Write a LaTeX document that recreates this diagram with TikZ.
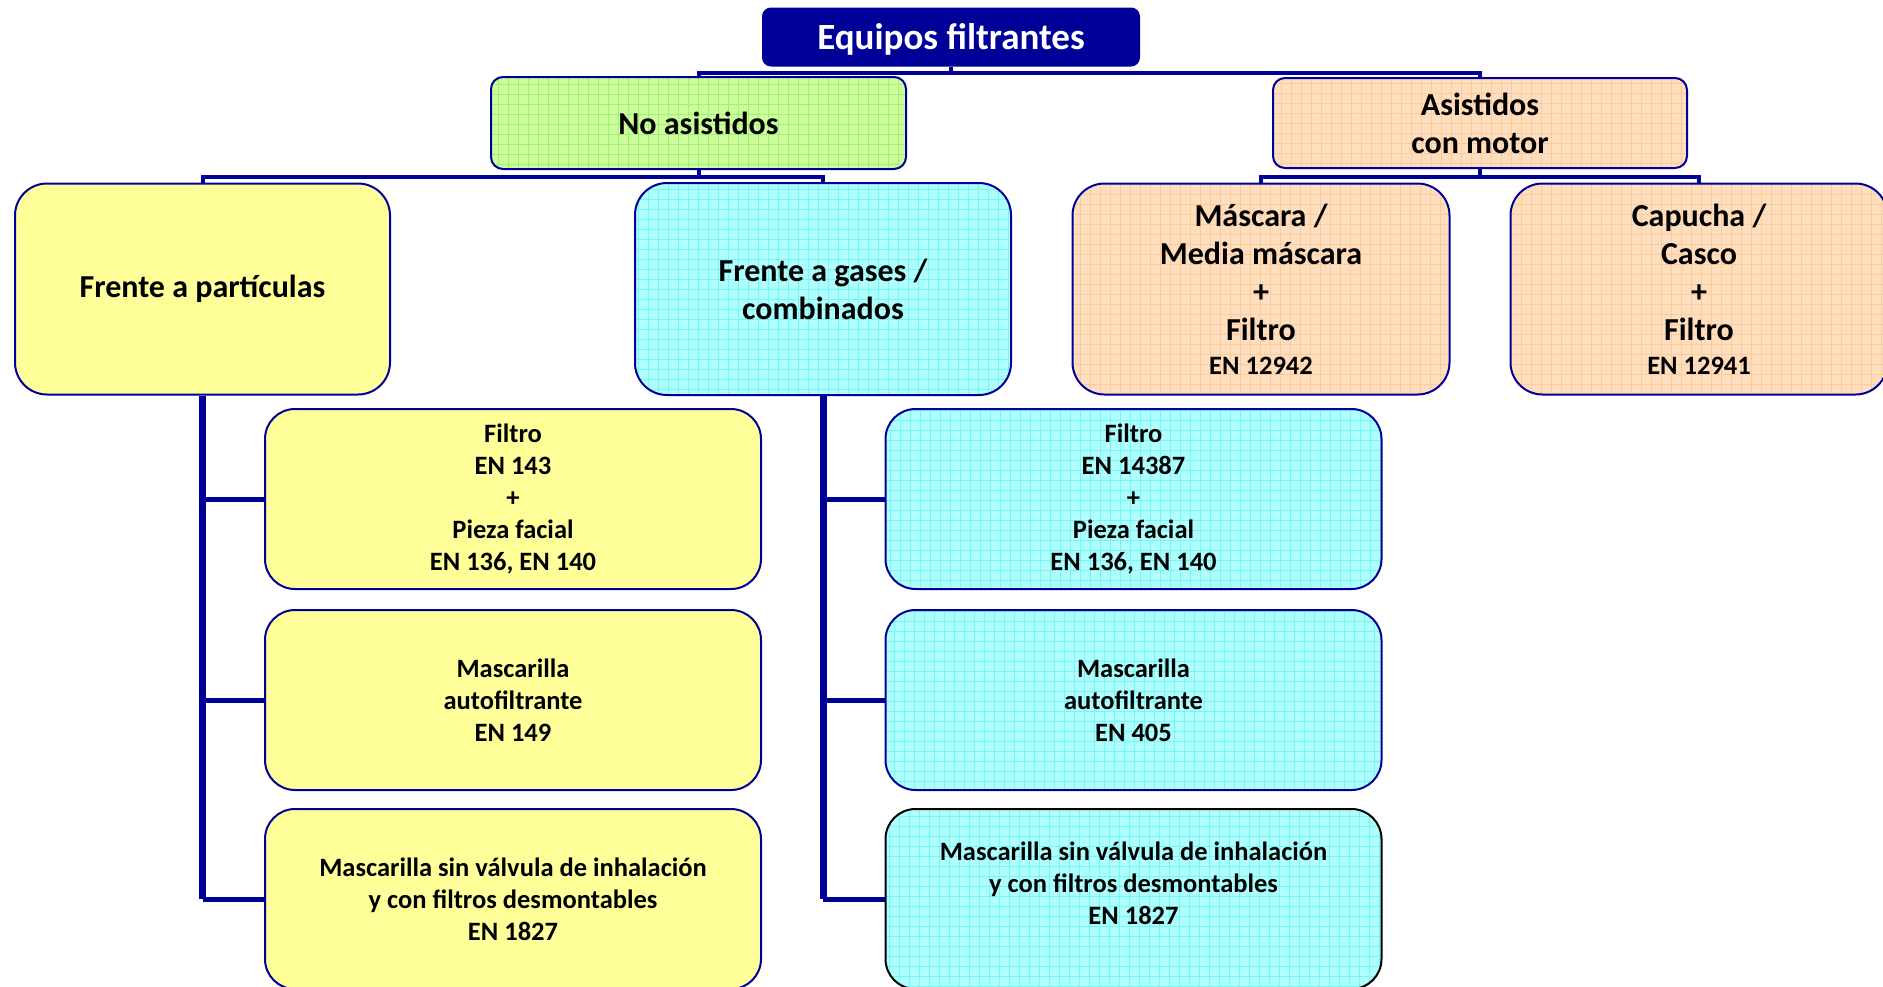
\documentclass[tikz,border=0pt]{standalone}
\usepackage{fontspec}
\setmainfont{Carlito}

\definecolor{azul}{HTML}{000099}
\definecolor{amarillo}{HTML}{FFFF99}
\definecolor{cian}{HTML}{B0FFFF}
\definecolor{cianlinea}{HTML}{78F6F6}
\definecolor{verde}{HTML}{CCFF99}
\definecolor{verdelinea}{HTML}{A2F07C}
\definecolor{naranja}{HTML}{FFDEBE}
\definecolor{naranjalinea}{HTML}{FCCA9F}

\tikzset{
  caja/.style={draw=azul, line width=2pt, rounded corners=#1, align=center,
    inner sep=0pt, font=\bfseries},
  caja/.default=30pt,
  rejilla/.style 2 args={fill=#1, path picture={
    \draw[#2, line width=0.7pt] (path picture bounding box.south west)
      grid[step=10pt] (path picture bounding box.north east);}},
  grande/.style={font=\bfseries\fontsize{32pt}{38pt}\selectfont},
  chica/.style={font=\bfseries\fontsize{26.5pt}{32pt}\selectfont},
  hoja/.style={caja, chica, minimum width=496pt, minimum height=180pt},
  conector/.style={draw=azul, line width=4pt},
  tronco/.style={draw=azul, line width=7pt},
  rama/.style={draw=azul, line width=5pt}
}

\begin{document}
\begin{tikzpicture}[x=1pt, y=-1pt]
  \useasboundingbox (0,0) rectangle (1883,986);

  \node[caja=8pt, fill=azul, text=white, font=\bfseries\fontsize{37pt}{40pt}\selectfont,
    text depth=2pt, minimum width=376pt, minimum height=57pt] (titulo) at (951,37) {Equipos filtrantes};

  \node[caja=12pt, grande, rejilla={verde}{verdelinea}, minimum width=415pt, minimum height=92pt]
    (noas) at (698.5,123) {No asistidos};
  \node[caja=12pt, grande, rejilla={naranja}{naranjalinea}, minimum width=414pt, minimum height=90pt]
    (asis) at (1480,123) {Asistidos\\con motor};

  \node[caja=32pt, grande, fill=amarillo, minimum width=375pt, minimum height=211pt]
    (part) at (202.5,289) {Frente a partículas};
  \node[caja=32pt, grande, rejilla={cian}{cianlinea}, minimum width=376pt, minimum height=212pt]
    (gases) at (823,289) {Frente a gases /\\combinados};
  \node[caja=32pt, grande, rejilla={naranja}{naranjalinea}, minimum width=377pt, minimum height=211pt]
    (masc) at (1261,289) {Máscara /\\Media máscara\\+\\Filtro\\[-4pt]{\fontsize{26.5pt}{30pt}\selectfont EN 12942}};
  \node[caja=32pt, grande, rejilla={naranja}{naranjalinea}, minimum width=377pt, minimum height=211pt]
    (capu) at (1699,289) {Capucha /\\Casco\\+\\Filtro\\[-4pt]{\fontsize{26.5pt}{30pt}\selectfont EN 12941}};

  \node[hoja, fill=amarillo] (pf1) at (513,499)
    {Filtro\\EN 143\\+\\Pieza facial\\EN 136, EN 140};
  \node[hoja, fill=amarillo] (pf2) at (513,700)
    {Mascarilla\\autofiltrante\\EN 149};
  \node[hoja, fill=amarillo] (pf3) at (513,899)
    {Mascarilla sin válvula de inhalación\\y con filtros desmontables\\EN 1827};

  \node[hoja, rejilla={cian}{cianlinea}] (gf1) at (1133.5,499)
    {Filtro\\EN 14387\\+\\Pieza facial\\EN 136, EN 140};
  \node[hoja, rejilla={cian}{cianlinea}] (gf2) at (1133.5,700)
    {Mascarilla\\autofiltrante\\EN 405};
  \node[hoja, draw=black, rejilla={cian}{cianlinea}] (gf3) at (1133.5,899)
    {Mascarilla sin válvula de inhalación\\y con filtros desmontables\\EN 1827\\ \mbox{}};

  \draw[conector] (titulo.south) -- ++(0,6) -| (noas.north);
  \draw[conector] (titulo.south) -- ++(0,6) -| (asis.north);
  \draw[conector] (noas.south) -- ++(0,7) -| (part.north);
  \draw[conector] (noas.south) -- ++(0,7) -| (gases.north);
  \draw[conector] (asis.south) -- ++(0,8) -| (masc.north);
  \draw[conector] (asis.south) -- ++(0,8) -| (capu.north);

  \draw[tronco] (part.south) -- (part.south |- pf3.west);
  \draw[rama] (part.south |- pf1.west) -- (pf1.west);
  \draw[rama] (part.south |- pf2.west) -- (pf2.west);
  \draw[rama] (part.south |- pf3.west) -- (pf3.west);
  \draw[tronco] (gases.south) -- (gases.south |- gf3.west);
  \draw[rama] (gases.south |- gf1.west) -- (gf1.west);
  \draw[rama] (gases.south |- gf2.west) -- (gf2.west);
  \draw[rama] (gases.south |- gf3.west) -- (gf3.west);
\end{tikzpicture}
\end{document}
